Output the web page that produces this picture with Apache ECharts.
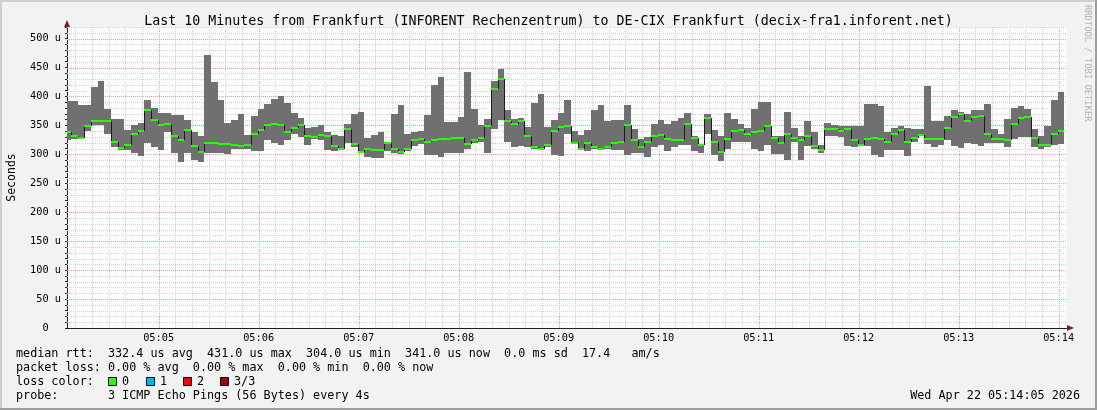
<!DOCTYPE html>
<html><head><meta charset="utf-8">
<script src="https://cdn.jsdelivr.net/npm/echarts@6/dist/echarts.min.js"></script>
<style>
html,body{margin:0;padding:0;background:#f2f2f2;overflow:hidden;}
#c{width:1097px;height:410px;}
</style></head><body><div id="c"></div>
<script>
// ---- data (microseconds) ----
const titleText = 'Last 10 Minutes from Frankfurt (INFORENT Rechenzentrum) to DE-CIX Frankfurt (decix-fra1.inforent.net)';
const timeLabels = ['05:05','05:06','05:07','05:08','05:09','05:10','05:11','05:12','05:13','05:14'];
const firstStepStart = 3.4;   // seconds after 05:04:00 of first 4 s step
const stepSec = 4;
const medianRtt = [
338,331,328,349,358,358,357,322,311,316,336,341,376,359,351,353,331,324,342,315,
304,320,320,318,318,316,315,316,335,342,351,352,351,338,345,351,332,330,334,331,
315,310,344,318,304,310,308,308,320,310,304,309,324,327,322,325,327,327,329,329,
318,325,329,349,413,431,358,352,358,331,312,310,316,341,347,349,319,310,320,313,
310,313,320,322,351,325,313,322,331,333,327,325,324,352,328,316,362,322,304,327,
341,342,335,339,341,349,328,320,335,328,324,332,315,308,344,343,341,343,324,316,
327,328,327,322,335,342,322,328,334,327,326,326,346,365,369,358,365,366,335,326,
327,324,353,363,365,328,316,316,335,341];
const minRtt = [
324,326,326,341,351,351,335,313,308,308,302,298,320,312,307,339,302,286,302,290,
286,303,303,302,300,310,310,310,306,305,325,320,316,325,336,330,316,326,325,308,
306,308,319,312,302,295,293,293,305,302,301,306,315,318,299,299,295,302,302,302,
310,319,322,302,343,359,322,312,315,312,309,309,313,299,297,336,318,308,305,309,
308,310,308,308,299,302,302,295,312,316,306,313,316,316,306,303,336,299,289,309,
322,322,322,310,305,316,301,301,291,322,291,315,310,302,331,332,330,315,313,315,
315,299,296,308,308,308,298,322,331,318,313,316,324,315,311,319,318,315,320,319,
319,313,327,330,330,312,310,313,317,318];
const maxRtt = [
392,392,385,385,417,427,378,361,361,342,351,354,394,380,372,372,368,368,359,338,
332,471,425,394,354,360,370,333,366,379,387,395,400,389,371,362,345,347,351,338,
333,332,352,370,374,328,333,339,322,370,385,335,339,341,368,420,434,356,356,365,
443,379,351,361,427,447,377,361,362,347,389,404,347,359,371,394,341,333,342,377,
385,358,359,360,385,343,326,330,352,359,352,358,362,371,332,318,370,342,331,371,
361,352,345,378,391,391,331,331,374,345,331,358,338,316,355,351,349,349,349,349,
387,387,384,339,345,349,345,343,343,418,358,358,366,376,374,370,376,377,387,343,
336,361,380,384,378,343,332,349,394,408];
const yLabelStep = 50;
const statLines = [
  'median rtt:  332.4 us avg  431.0 us max  304.0 us min  341.0 us now  0.0 ms sd  17.4   am/s',
  'packet loss: 0.00 % avg  0.00 % max  0.00 % min  0.00 % now',
  'loss color:',
  'probe:       3 ICMP Echo Pings (56 Bytes) every 4s'
];
const lossLabels = ['0','1','2','3/3'];
const lossColors = ['#26ff00','#00b8ff','#ff0000','#a10000'];
const dateText = 'Wed Apr 22 05:14:05 2026';
const watermark = 'RRDTOOL / TOBI OETIKER';

// ---- build ----
const rows = medianRtt.map((m, i) => {
  const s = firstStepStart + i * stepSec;
  return [s, s + stepSec, minRtt[i], maxRtt[i], m, i > 0 ? medianRtt[i - 1] : m];
});
const vTicks = [];
for (let t = 10; t <= 600; t += 10) vTicks.push([t, t % 60 === 0 ? 1 : 0]);
const hTicks = [];
for (let v = 10; v <= 520; v += 10) hTicks.push([v, v % 50 === 0 ? 1 : 0]);

const MONO = 'DejaVu Sans Mono';
const minorCol = '#d4d4d4', majorCol = '#eba0a0';

function renderCol(params, api) {
  const cs = params.coordSys;
  const left = cs.x, right = cs.x + cs.width;
  const pTop = api.coord([api.value(0), api.value(3)]);
  const pBot = api.coord([api.value(1), api.value(2)]);
  const pMed = api.coord([api.value(0), api.value(4)]);
  const pPrev = api.coord([api.value(0), api.value(5)]);
  const xs = Math.round(Math.max(left, pTop[0]));
  const xe = Math.round(Math.min(right, pBot[0]));
  if (xe <= xs) return;
  const yT = Math.round(pTop[1]), yB = Math.round(pBot[1]);
  const yM = Math.round(pMed[1]), yP = Math.round(pPrev[1]);
  const ch = [
    {type: 'rect', shape: {x: xs, y: yT, width: xe - xs, height: yB - yT}, style: {fill: '#707070'}}
  ];
  if (params.dataIndex > 0 && yP !== yM) {
    ch.push({type: 'line', shape: {x1: xs + 0.5, y1: yP, x2: xs + 0.5, y2: yM}, style: {stroke: '#1a1a1a', lineWidth: 1}});
  }
  ch.push({type: 'rect', shape: {x: xs, y: yM - 1, width: xe - xs, height: 2}, style: {fill: '#26ff00'}});
  return {type: 'group', children: ch};
}
function renderV(params, api) {
  const cs = params.coordSys;
  const x = Math.round(api.coord([api.value(0), 0])[0]) + 0.5;
  if (x >= cs.x + cs.width) return;
  return {type: 'line', shape: {x1: x, y1: cs.y, x2: x, y2: cs.y + cs.height},
    style: {stroke: api.value(1) ? majorCol : minorCol, lineWidth: 1, lineDash: [1, 1]}};
}
function renderH(params, api) {
  const cs = params.coordSys;
  const y = Math.round(api.coord([5, api.value(0)])[1]) + 0.5;
  if (y <= cs.y) return;
  return {type: 'line', shape: {x1: cs.x, y1: y, x2: cs.x + cs.width, y2: y},
    style: {stroke: api.value(1) ? majorCol : minorCol, lineWidth: 1, lineDash: [1, 1]}};
}

const graphics = [
  {type: 'rect', shape: {x: 0, y: 0, width: 1097, height: 2}, style: {fill: '#cfcfcf'}, z: 10},
  {type: 'rect', shape: {x: 0, y: 0, width: 2, height: 410}, style: {fill: '#cfcfcf'}, z: 10},
  {type: 'rect', shape: {x: 0, y: 408, width: 1097, height: 2}, style: {fill: '#9e9e9e'}, z: 10},
  {type: 'rect', shape: {x: 1095, y: 0, width: 2, height: 410}, style: {fill: '#9e9e9e'}, z: 10},
  {type: 'polygon', shape: {points: [[64, 27], [70, 27], [67, 20]]}, style: {fill: '#801f1f'}, z: 10},
  {type: 'polygon', shape: {points: [[1067, 325], [1067, 331], [1074, 328]]}, style: {fill: '#801f1f'}, z: 10},
  {type: 'text', x: 1087, y: 5, rotation: -Math.PI / 2,
    style: {text: watermark, font: '8.8px ' + MONO, fill: '#b4b4b4', textAlign: 'left', textVerticalAlign: 'middle'}, z: 10},
  {type: 'text', x: 1080, y: 396, style: {text: dateText, font: '11.76px ' + MONO, fill: '#000', textAlign: 'right', textVerticalAlign: 'middle'}, z: 10}
];
statLines.forEach((s, i) => {
  graphics.push({type: 'text', x: 16, y: 354 + 14 * i, style: {text: s, font: '11.76px ' + MONO, fill: '#000', textVerticalAlign: 'middle'}, z: 10});
});
const lossX = [108, 146, 183, 220];
lossLabels.forEach((l, i) => {
  graphics.push({type: 'rect', shape: {x: lossX[i] + 0.5, y: 377.5, width: 8, height: 8}, style: {fill: lossColors[i], stroke: '#000', lineWidth: 1}, z: 10});
  graphics.push({type: 'text', x: lossX[i] + 14, y: 382, style: {text: l, font: '11.76px ' + MONO, fill: '#000', textVerticalAlign: 'middle'}, z: 10});
});

const chart = echarts.init(document.getElementById('c'), null, {renderer: 'canvas'});
chart.setOption({
  animation: false,
  backgroundColor: '#f2f2f2',
  title: {text: titleText, left: 'center', top: 10,
    textStyle: {fontFamily: MONO, fontSize: 13.3, fontWeight: 'normal', color: '#000'}},
  grid: [
    {left: 67, top: 27, width: 1000, height: 301, show: true, backgroundColor: '#ffffff', borderWidth: 0,
      containLabel: false, outerBoundsMode: 'none'},
    {left: 58.67, top: 27, width: 1000, height: 301, show: false, containLabel: false, outerBoundsMode: 'none'}
  ],
  xAxis: [
    {gridIndex: 0, type: 'value', min: 5, max: 605,
      axisLine: {show: true, onZero: false, lineStyle: {color: '#1f1f1f', width: 1}},
      axisTick: {show: false}, axisLabel: {show: false}, splitLine: {show: false}},
    {gridIndex: 1, type: 'value', min: 0, max: 600, interval: 60,
      axisLine: {show: false}, axisTick: {show: false}, splitLine: {show: false},
      axisLabel: {showMinLabel: false, margin: 5, color: '#000', fontFamily: MONO, fontSize: 10.3,
        formatter: v => timeLabels[v / 60 - 1] || ''}}
  ],
  yAxis: [
    {gridIndex: 0, type: 'value', min: 0, max: 520, interval: 10,
      name: 'Seconds', nameLocation: 'middle', nameGap: 49, nameRotate: 90,
      nameTextStyle: {fontFamily: MONO, fontSize: 11.5, color: '#000'},
      axisLine: {show: true, onZero: false, lineStyle: {color: '#1f1f1f', width: 1}},
      axisTick: {show: true, length: 2, lineStyle: {color: '#1f1f1f'}},
      splitLine: {show: false},
      axisLabel: {margin: 6, color: '#000', fontFamily: MONO, fontSize: 10.3,
        formatter: v => v === 0 ? '0  ' : (v % yLabelStep === 0 ? v + ' u' : '')}},
    {gridIndex: 1, type: 'value', min: 0, max: 1, show: false}
  ],
  series: [
    {type: 'custom', name: 'gridV', xAxisIndex: 0, yAxisIndex: 0, z: 1, silent: true,
      renderItem: renderV, data: vTicks, encode: {x: 0}},
    {type: 'custom', name: 'gridH', xAxisIndex: 0, yAxisIndex: 0, z: 1, silent: true,
      renderItem: renderH, data: hTicks, encode: {y: 0}},
    {type: 'custom', name: 'median rtt', xAxisIndex: 0, yAxisIndex: 0, z: 3, silent: true,
      renderItem: renderCol, data: rows, encode: {x: [0, 1], y: [2, 3, 4]}}
  ],
  graphic: graphics
});
</script></body></html>
